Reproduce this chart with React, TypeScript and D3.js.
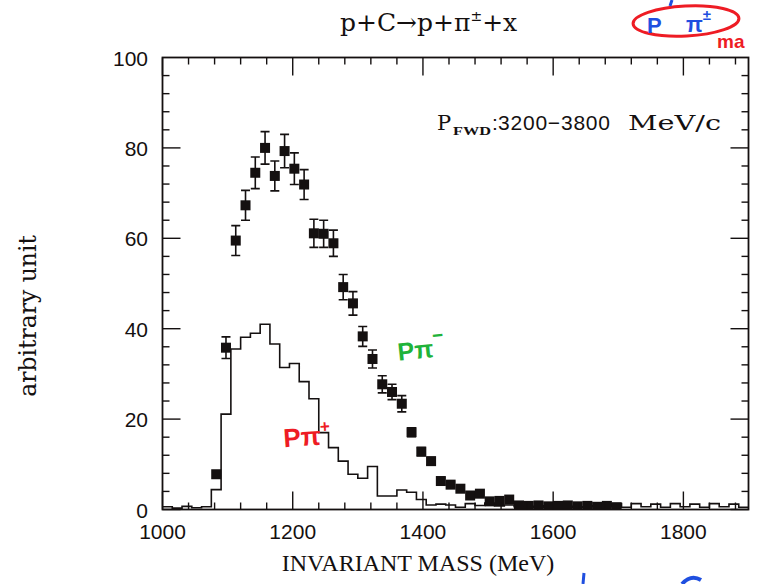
import React from 'react';
import * as d3 from 'd3';

// Histogram binning (MeV)
const BIN_START = 1000;
const BIN_WIDTH = 15;

// p pi+ invariant-mass histogram, one value per 15 MeV bin starting at 1000 MeV
const ppiPlusHist = [
  0.6, 0.3, 0.7, 0.4, 0.6, 4.4, 21.1, 35.5, 38.1, 39.0,
  41.0, 36.6, 31.4, 32.3, 28.3, 24.5, 17.0, 13.7, 10.7, 7.8,
  6.9, 9.5, 3.0, 3.0, 4.3, 3.8, 2.2, 1.0, 1.2, 1.0,
  0.5, 1.3, 0.9, 1.4, 0.8, 1.0, 0.6, 0.7, 0.5, 0.8,
  0.6, 0.7, 0.5, 0.6, 0.8, 0.6, 1.3, 0.5, 1.3, 0.6,
  1.2, 0.5, 1.3, 0.6, 1.2, 0.5, 1.3, 0.6, 1.2, 0.5,
];

// p pi- data points: bin centre (MeV), value, statistical error
const ppiMinusMass = [
  1082.5, 1097.5, 1112.5, 1127.5, 1142.5, 1157.5, 1172.5, 1187.5, 1202.5, 1217.5,
  1232.5, 1247.5, 1262.5, 1277.5, 1292.5, 1307.5, 1322.5, 1337.5, 1352.5, 1367.5,
  1382.5, 1397.5, 1412.5, 1427.5, 1442.5, 1457.5, 1472.5, 1487.5, 1502.5, 1517.5,
  1532.5, 1547.5, 1562.5, 1577.5, 1592.5, 1607.5, 1622.5, 1637.5, 1652.5, 1667.5,
  1682.5, 1697.5,
];
const ppiMinusValue = [
  7.8, 35.8, 59.5, 67.3, 74.5, 80.0, 73.8, 79.3, 75.4, 71.9,
  61.1, 61.0, 58.9, 49.2, 45.6, 38.3, 33.3, 27.7, 26.0, 23.4,
  17.1, 12.8, 10.7, 6.3, 5.5, 4.6, 3.1, 3.5, 1.8, 1.9,
  2.2, 0.9, 0.8, 0.9, 0.7, 0.8, 0.9, 0.7, 0.8, 0.6,
  0.8, 0.5,
];
const ppiMinusError = [
  0, 2.4, 3.3, 3.3, 3.5, 3.6, 3.3, 3.7, 3.5, 3.3,
  3.1, 3.0, 2.9, 2.8, 2.6, 2.2, 2.0, 1.9, 1.7, 1.8,
  1.0, 0.9, 0.8, 0.7, 0.6, 0, 0, 0, 0, 0,
  0, 0, 0, 0, 0, 0, 0, 0, 0, 0,
  0, 0,
];

// Axis ticks
const xMajorTicks = [1000, 1200, 1400, 1600, 1800];
const xTickLabels = ['1000', '1200', '1400', '1600', '1800'];
const yMajorTicks = [0, 20, 40, 60, 80, 100];
const yTickLabels = ['0', '20', '40', '60', '80', '100'];

const title = 'p+C\u2192p+\u03c0';
const xTitle = 'INVARIANT MASS (MeV)';
const yTitle = 'arbitrary unit';

const W = 760;
const H = 584;
const LEFT = 162.5;
const RIGHT = 748.5;
const TOP = 57.5;
const BOTTOM = 509.5;

const INK = '#141010';
const SERIF = '"DejaVu Serif", "Liberation Serif", serif';
const TIMES = '"Liberation Serif", serif';
const SANS = '"Liberation Sans", Arial, sans-serif';

export default function App() {
  const x = d3.scaleLinear().domain([1000, 1900]).range([LEFT, RIGHT]);
  const y = d3.scaleLinear().domain([0, 100]).range([BOTTOM, TOP]);

  const xMinor = d3.range(1000, 1900, 40);
  const yMinor = d3.range(0, 100, 4);

  const histPoints: [number, number][] = ppiPlusHist.map((v, i) => [BIN_START + i * BIN_WIDTH, v]);
  histPoints.push([BIN_START + ppiPlusHist.length * BIN_WIDTH, ppiPlusHist[ppiPlusHist.length - 1]]);
  const histPath = d3
    .line<[number, number]>()
    .x((d) => x(d[0]))
    .y((d) => y(d[1]))
    .curve(d3.curveStepAfter)(histPoints) as string;

  const points = ppiMinusMass.map((m, i) => ({ m, v: ppiMinusValue[i], e: ppiMinusError[i] }));

  const MARK = 10;
  const CAP = 9;
  const MAJ = 18;
  const MIN = 7;

  return (
    <svg
      width={W}
      height={H}
      viewBox={`0 0 ${W} ${H}`}
      style={{ position: 'absolute', left: 0, top: 0, background: '#fff' }}
    >
      <defs>
        <clipPath id="plot-area">
          <rect x={LEFT} y={TOP} width={RIGHT - LEFT} height={BOTTOM - TOP} />
        </clipPath>
      </defs>

      {/* title */}
      <text x={340} y={31} fontFamily={SERIF} fontSize={25} fill={INK}>
        {title}
        <tspan dy={-10} fontSize={14}>{'\u00b1'}</tspan>
        <tspan dy={10}>+x</tspan>
      </text>

      {/* momentum window label */}
      <text y={130} fill={INK}>
        <tspan x={437} fontFamily={SERIF} fontSize={21}>P</tspan>
        <tspan x={453} dy={5} fontFamily={TIMES} fontWeight="bold" fontSize={13} textLength={38} lengthAdjust="spacingAndGlyphs">FWD</tspan>
        <tspan x={492} dy={-5} fontFamily={SANS} fontSize={21}>:</tspan>
        <tspan x={498} fontFamily={SANS} fontSize={21} textLength={112} lengthAdjust="spacing">{'3200\u22123800'}</tspan>
        <tspan x={628} fontFamily={SERIF} fontSize={21} textLength={93} lengthAdjust="spacingAndGlyphs">MeV/c</tspan>
      </text>

      <g clipPath="url(#plot-area)">
        {/* p pi+ histogram */}
        <path d={histPath} fill="none" stroke={INK} strokeWidth={1.6} strokeLinejoin="miter" />

        {/* p pi- points with error bars */}
        {points.map((p, i) => (
          <g key={i}>
            {p.e > 0 && (
              <g stroke={INK} strokeWidth={1.6}>
                <line x1={x(p.m)} x2={x(p.m)} y1={y(p.v - p.e)} y2={y(p.v + p.e)} />
                <line x1={x(p.m) - CAP / 2} x2={x(p.m) + CAP / 2} y1={y(p.v + p.e)} y2={y(p.v + p.e)} />
                <line x1={x(p.m) - CAP / 2} x2={x(p.m) + CAP / 2} y1={y(p.v - p.e)} y2={y(p.v - p.e)} />
              </g>
            )}
            <rect x={x(p.m) - MARK / 2} y={y(p.v) - MARK / 2} width={MARK} height={MARK} fill={INK} />
          </g>
        ))}
      </g>

      {/* frame */}
      <rect x={LEFT} y={TOP} width={RIGHT - LEFT} height={BOTTOM - TOP} fill="none" stroke={INK} strokeWidth={1.8} />

      {/* ticks on all four sides, drawn inward */}
      <g stroke={INK} strokeWidth={1.4}>
        {xMinor.map((t) => (
          <g key={`xm${t}`}>
            <line x1={x(t)} x2={x(t)} y1={BOTTOM} y2={BOTTOM - (t % 200 === 0 ? MAJ : MIN)} />
            <line x1={x(t)} x2={x(t)} y1={TOP} y2={TOP + (t % 200 === 0 ? MAJ : MIN)} />
          </g>
        ))}
        {yMinor.map((t) => (
          <g key={`ym${t}`}>
            <line x1={LEFT} x2={LEFT + (t % 20 === 0 ? MAJ : MIN)} y1={y(t)} y2={y(t)} />
            <line x1={RIGHT} x2={RIGHT - (t % 20 === 0 ? MAJ : MIN)} y1={y(t)} y2={y(t)} />
          </g>
        ))}
      </g>

      {/* tick labels */}
      <g fontFamily={SANS} fontSize={21} fill={INK}>
        {xMajorTicks.map((t, i) => (
          <text key={`xl${t}`} x={x(t)} y={539} textAnchor="middle">
            {xTickLabels[i]}
          </text>
        ))}
        {yMajorTicks.map((t, i) => (
          <text key={`yl${t}`} x={148} y={y(t) + 8} textAnchor="end">
            {yTickLabels[i]}
          </text>
        ))}
      </g>

      {/* axis titles */}
      <text x={418} y={571} textAnchor="middle" fontFamily={TIMES} fontSize={24} fill={INK}>
        {xTitle}
      </text>
      <text
        transform="translate(36,316) rotate(-90)"
        textAnchor="middle"
        fontFamily={SERIF}
        fontSize={23.5}
        fill={INK}
      >
        {yTitle}
      </text>

      {/* hand-written notes */}
      <text x={283} y={446} fontFamily={SANS} fontWeight="bold" fontSize={26} fill="#ee1c24" transform="rotate(-4 300 432)">
        P{'\u03c0'}
        <tspan dy={-12} fontSize={17}>+</tspan>
      </text>
      <text x={397} y={359} fontFamily={SANS} fontWeight="bold" fontSize={25} fill="#1fb33a" transform="rotate(-6 415 345)">
        P{'\u03c0'}
        <tspan dy={-15} fontSize={19}>{'\u2212'}</tspan>
      </text>

      <ellipse cx={686} cy={21} rx={53} ry={15} fill="none" stroke="#ee1c24" strokeWidth={3} transform="rotate(-3 686 21)" />
      <text x={647} y={33} fontFamily={SANS} fontWeight="bold" fontSize={22} fill="#1f4fe0">
        P
      </text>
      <text x={686} y={32} fontFamily={SANS} fontWeight="bold" fontSize={22} fill="#1f4fe0">
        {'\u03c0'}
        <tspan dy={-12} fontSize={15}>{'\u00b1'}</tspan>
      </text>
      <text x={717} y={48} fontFamily={SANS} fontWeight="bold" fontSize={19} fill="#ee1c24">
        ma
      </text>
      <path d="M672,0 L670,6" stroke="#1f4fe0" strokeWidth={3} fill="none" />
      <path d="M584,573 L583,584" stroke="#1f4fe0" strokeWidth={3} fill="none" />
      <path d="M682,584 Q691,574 701,580" stroke="#1f4fe0" strokeWidth={4} fill="none" />
    </svg>
  );
}
